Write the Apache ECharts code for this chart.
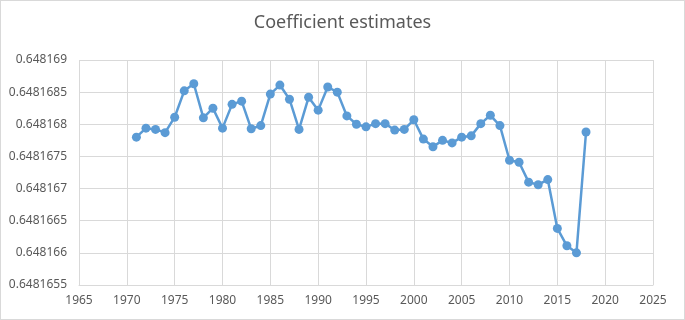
<!DOCTYPE html>
<html>
<head>
<meta charset="utf-8">
<script src="https://cdn.jsdelivr.net/npm/echarts@6/dist/echarts.min.js"></script>
<style>
  html, body { margin: 0; padding: 0; background: #fff; }
  #chart { width: 685px; height: 320px; box-sizing: border-box; border: 1px solid #d9d9d9; }
</style>
</head>
<body>
<div id="chart"></div>
<script>
// years 1971..2018
const years = [
  1971, 1972, 1973, 1974, 1975, 1976, 1977, 1978, 1979, 1980,
  1981, 1982, 1983, 1984, 1985, 1986, 1987, 1988, 1989, 1990,
  1991, 1992, 1993, 1994, 1995, 1996, 1997, 1998, 1999, 2000,
  2001, 2002, 2003, 2004, 2005, 2006, 2007, 2008, 2009, 2010,
  2011, 2012, 2013, 2014, 2015, 2016, 2017, 2018
];
const estimates = [
  0.6481678, 0.64816794, 0.64816792, 0.64816787, 0.64816811, 0.64816852, 0.64816863, 0.6481681, 0.64816825, 0.64816794,
  0.64816831, 0.64816836, 0.64816793, 0.64816798, 0.64816847, 0.64816861, 0.64816839, 0.64816792, 0.64816842, 0.64816822,
  0.64816858, 0.6481685, 0.64816813, 0.648168, 0.64816796, 0.64816801, 0.64816801, 0.64816791, 0.64816792, 0.64816807,
  0.64816777, 0.64816765, 0.64816775, 0.64816771, 0.6481678, 0.64816782, 0.64816801, 0.64816814, 0.64816798, 0.64816744,
  0.64816741, 0.6481671, 0.64816706, 0.64816714, 0.64816638, 0.64816611, 0.648166, 0.64816788
];
const xTicks = { min: 1965, max: 2025, step: 5 };
const yTicks = { min: 0.6481655, max: 0.648169, step: 0.0000005 };

let chart = echarts.init(document.getElementById("chart"));
let option = {
  backgroundColor: "#fff",
  animation: false,
  title: {
    text: "Coefficient estimates",
    left: "center",
    top: 8,
    textStyle: {
      color: "#595959",
      fontFamily: "Noto Sans",
      fontWeight: "normal",
      fontSize: 18
    }
  },
  grid: {
    left: 78,
    right: 31,
    top: 59,
    bottom: 34
  },
  xAxis: {
    type: "value",
    min: xTicks.min,
    max: xTicks.max,
    interval: xTicks.step,
    axisLine: { show: true, lineStyle: { color: "#d9d9d9" } },
    axisTick: { show: false },
    splitLine: { show: true, lineStyle: { color: "#d9d9d9" } },
    axisLabel: {
      color: "#595959",
      fontFamily: "Noto Sans",
      fontSize: 12,
      margin: 10,
      formatter: function (v) {
        return String(v);
      }
    }
  },
  yAxis: {
    type: "value",
    min: yTicks.min,
    max: yTicks.max,
    interval: yTicks.step,
    axisLine: { show: false },
    axisTick: { show: false },
    splitLine: { show: true, lineStyle: { color: "#d9d9d9" } },
    axisLabel: {
      color: "#595959",
      fontFamily: "Noto Sans",
      fontSize: 12,
      margin: 12,
      formatter: function (v) {
        return parseFloat(v.toFixed(7)).toString();
      }
    }
  },
  series: [
    {
      type: "line",
      data: years.map((y, i) => [y, estimates[i]]),
      symbol: "circle",
      symbolSize: 9,
      lineStyle: { color: "#5b9bd5", width: 2.5 },
      itemStyle: { color: "#5b9bd5" }
    }
  ]
};
chart.setOption(option);
</script>
</body>
</html>
